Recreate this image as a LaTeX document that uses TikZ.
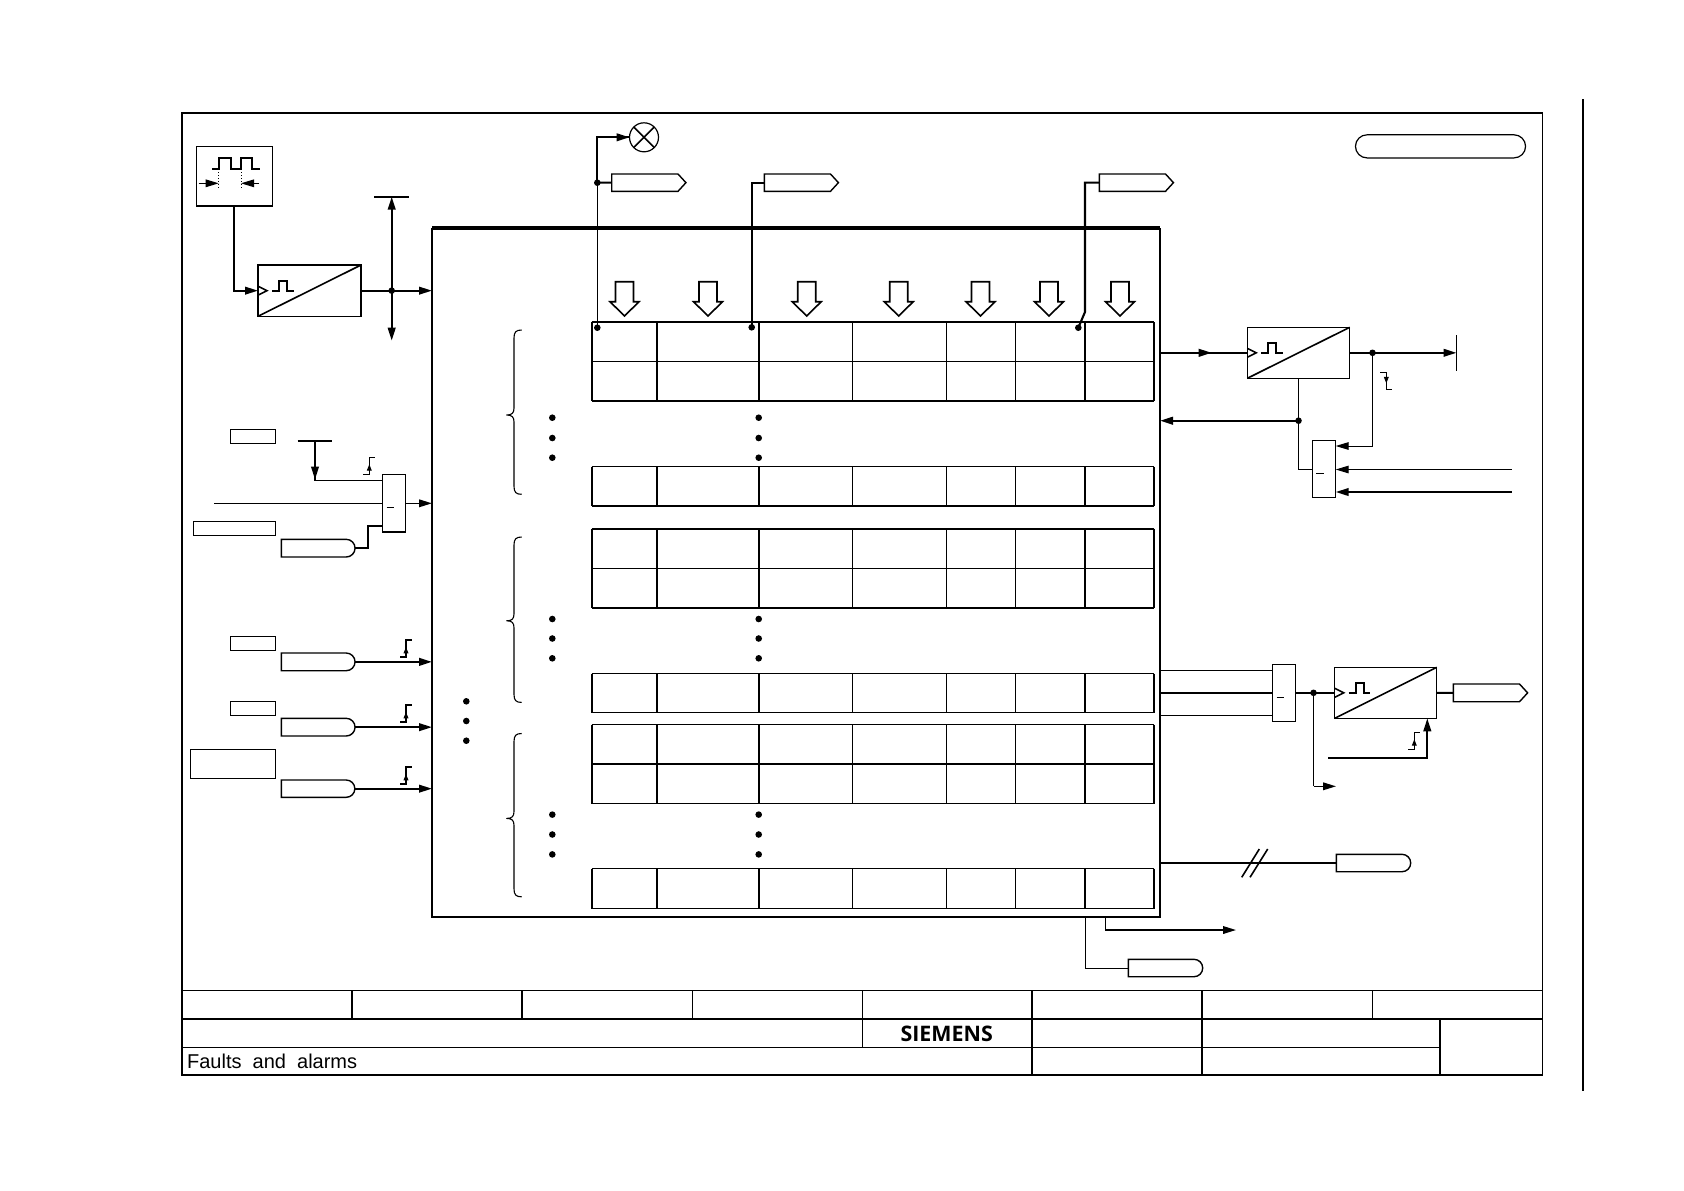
\documentclass[tikz,border=0pt]{standalone}
\usepackage{fontspec}
\setmainfont{Liberation Sans}
\newfontfamily\logofont{Open Sans}
\usetikzlibrary{arrows.meta,shapes.symbols,shapes.misc,fit}
\tikzset{
  x=0.5pt,y=-0.5pt,
  thinl/.style={line width=0.5pt},
  medl/.style={line width=0.8pt},
  thickl/.style={line width=1.05pt},
  headto/.style={-{Triangle[length=6.5pt,width=3.8pt]}},
  box/.style={draw,line width=0.75pt,inner sep=0pt,outer sep=0pt,fill=white},
  thinbox/.style={draw,line width=0.6pt,inner sep=0pt,outer sep=0pt,fill=white},
  tagout/.style={draw,line width=0.7pt,inner sep=0pt,outer sep=0pt,signal,signal to=east,signal pointer angle=95,fill=white},
  tagin/.style={draw,line width=0.7pt,inner sep=0pt,outer sep=0pt,rounded rectangle,rounded rectangle west arc=none,fill=white},
}
\newcommand\clockpulse[1]{%
  \draw[medl] (#1.west) ++(0,-4.5) -- ++(9,4.5) -- ++(-9,4.5);
  \draw[thickl] (#1.west) ++(14,0.5) -- ++(7,0) -- ++(0,-10) -- ++(8,0) -- ++(0,10) -- ++(6.5,0);
  \draw[medl] (#1.south west) -- (#1.north east);}
\newcommand\risesym[2]{%
  \draw[line width=0.7pt] (#1,#2) -- ++(6,0) -- ++(0,-17) -- ++(6,0);
  \draw[-{Triangle[length=3.2pt,width=2.4pt]},line width=0.5pt] (#1,#2) ++(6,0) -- ++(0,-10);}
\newcommand\fallsym[2]{%
  \draw[line width=0.7pt] (#1,#2) -- ++(6,0) -- ++(0,17) -- ++(6,0);
  \draw[-{Triangle[length=3.2pt,width=2.4pt]},line width=0.5pt] (#1,#2) ++(6,0) -- ++(0,11);}
% top y, bottom y, top weight, bottom weight
\newcommand\tablerow[4]{%
  \draw[line width=#3] (591.7,#1) -- (1154,#1);
  \draw[line width=#4] (591.7,#2) -- (1154,#2);
  \draw[medl] (591.7,#1) -- (591.7,#2);
  \draw[medl] (1154,#1) -- (1154,#2);
  \draw[medl] (656.7,#1) -- (656.7,#2);
  \draw[medl] (758.7,#1) -- (758.7,#2);
  \draw[thinl] (852.5,#1) -- (852.5,#2);
  \draw[thinl] (946.5,#1) -- (946.5,#2);
  \draw[thinl] (1015.5,#1) -- (1015.5,#2);
  \draw[medl] (1085,#1) -- (1085,#2);}
\newcommand\groupbrace[3]{%
  \draw[line width=0.55pt,line join=round] (521.7,#1) .. controls (516,#1) and (514,#1+2) .. (514,#1+8)
    -- (514,#2-7) .. controls (514,#2-2) and (512,#2) .. (506.7,#2)
    .. controls (512,#2) and (514,#2+2) .. (514,#2+7)
    -- (514,#3-8) .. controls (514,#3-2) and (516,#3) .. (521.7,#3);}
\newcommand\threedots[2]{%
  \foreach \yy in {#2} {\fill (#1,\yy) circle (3.3);}}
\begin{document}
\begin{tikzpicture}
\useasboundingbox (0,0) rectangle (1684,1190);
\fill[white] (0,0) rectangle (1684,1190);

% sheet frame and title block
\draw[medl] (181.7,112.7) rectangle (1542.5,1075);
\draw[medl] (1583,99) -- (1583,1091);
\draw[medl] (181.7,990.5) -- (1542.5,990.5);
\draw[thickl] (181.7,1018.7) -- (1542.5,1018.7);
\draw[thinl] (181.7,1047.5) -- (1440,1047.5);
\draw[medl] (352,990.3) -- (352,1018.7);
\draw[medl] (522,990.3) -- (522,1018.7);
\draw[thinl] (692.5,990.3) -- (692.5,1018.7);
\draw[thinl] (862.5,990.3) -- (862.5,1047);
\draw[thickl] (1032.3,990.3) -- (1032.3,1075);
\draw[thickl] (1202,990.3) -- (1202,1075);
\draw[thinl] (1372.5,990.3) -- (1372.5,1018.7);
\draw[thickl] (1440,1018.7) -- (1440,1075);
\node[anchor=base west,inner sep=0pt,font=\fontsize{10pt}{12pt}\selectfont] (title) at (186.7,1068) {Faults\ \ and\ \ alarms};
\node[inner sep=0pt,font=\logofont\bfseries\fontsize{10.7pt}{12pt}\selectfont] (logo) at (946.7,1034) {SIEMENS};

% main block
\node[draw=none,inner sep=0pt,outer sep=0pt,fit={(432,228)(1160,916.7)}] (main) {};
\draw[medl] (main.north west) -- (main.south west) -- (main.south east) -- (main.north east);
\draw[line width=1.6pt] (main.north west) -- (main.north east);

% table
\tablerow{322}{400.7}{1.05pt}{1.05pt}
\draw[thinl] (591.7,361.5) -- (1154,361.5);
\tablerow{466.5}{505.7}{0.5pt}{1.05pt}
\tablerow{528.7}{608}{1.05pt}{1.05pt}
\draw[thinl] (591.7,568.5) -- (1154,568.5);
\tablerow{673.5}{712.5}{0.5pt}{0.5pt}
\tablerow{724.5}{803.5}{0.5pt}{0.5pt}
\draw[thickl] (591.7,764) -- (1154,764);
\tablerow{868.5}{908.5}{0.5pt}{0.5pt}

% entry arrows over the table
\foreach \cx in {624.5,708,806.7,898.7,980.5,1049,1120} {
  \draw[medl,fill=white,line join=miter] (\cx-9,281.7) -- (\cx+9,281.7) -- (\cx+9,301.7) -- (\cx+14.5,301.7)
    -- (\cx,316) -- (\cx-14.5,301.7) -- (\cx-9,301.7) -- cycle;
}

% braces and ellipsis dots
\groupbrace{330}{415}{494.3}
\groupbrace{537}{620.8}{702.4}
\groupbrace{733.5}{818.4}{896.8}
\threedots{552.3}{417.7,438,457.7}
\threedots{758.7}{417.7,438,457.7}
\threedots{552.3}{619,638.5,658.3}
\threedots{758.7}{619,638.5,658.3}
\threedots{552.3}{814.6,834.5,854.4}
\threedots{758.7}{814.6,834.5,854.4}
\threedots{466.3}{701.3,721,740.7}

% pulse source
\node[box,fit={(196.3,146.3)(272.3,206)}] (clk) {};
\draw[thickl] (212,169) -- (218.7,169) -- (218.7,157.7) -- (230.7,157.7) -- (230.7,169) -- (241,169) -- (241,157.7) -- (252.3,157.7) -- (252.3,169) -- (260,169);
\draw[thinl,densely dotted] (218.7,169) -- (218.7,188);
\draw[thinl,densely dotted] (241,169) -- (241,188);
\coordinate (pw1) at (198.7,183.3);
\coordinate (pw2) at (218.7,183.3);
\coordinate (pw3) at (259,183.3);
\coordinate (pw4) at (241,183.3);
\draw[thinl,headto] (pw1) -- (pw2);
\draw[thinl,headto] (pw3) -- (pw4);

\node[box,fit={(258,265)(361,316.3)}] (mono1) {};
\clockpulse{mono1}
\draw[thickl,headto] (clk.south) |- (mono1.west);
\coordinate (j1) at (391.7,290.65);
\coordinate (bar1) at (391.7,196.7);
\coordinate (low1) at (391.7,340.7);
\draw[thickl,headto] (mono1.east) -- (mono1.east -| main.west);
\draw[thickl,headto] (j1) -- (bar1);
\draw[thickl,headto] (j1) -- (low1);
\draw[thickl] (bar1) ++(-17.7,0) -- ++(35.4,0);
\fill (j1) circle (3.3);

% OR block left
\node[thinbox,fit={(230.3,429.3)(275.7,443.3)}] (lab1) {};
\node[thinbox,fit={(193.3,521.7)(275.7,535.7)}] (lab2) {};
\node[box,fit={(382.7,474.3)(405.7,532)}] (or1) {};
\draw[medl] (386.7,507.3) -- (394,507.3);
\coordinate (bar2) at (315,440.7);
\coordinate (in2) at (382.7,480.3);
\coordinate (feed2) at (214.3,503.3);
\coordinate (in2b) at (382.7,503.3);
\coordinate (in2c) at (382.7,526);
\draw[thickl] (bar2) ++(-17.3,0) -- ++(34.7,0);
\draw[medl] (bar2) |- (in2);
\draw[thickl,headto] (bar2) -- (315,479.5);
\draw[medl] (feed2) -- (in2b);
\coordinate (or1out) at (405.7,503.3);
\draw[medl,headto] (or1out) -- (or1out -| main.west);
\node[tagin,fit={(281.3,539.3)(346.2,557)}] (tg1) {};
\draw[thickl] (tg1.east) -- (368.3,548.15) -- (368.3,526) -- (in2c);
\risesym{363.3}{474.3}

% input tags
\node[thinbox,fit={(230.3,636.3)(275.7,650.7)}] (lab3) {};
\node[tagin,fit={(281.3,653)(346.2,670.7)}] (tg2) {};
\draw[thickl,headto] (tg2.east) -- (tg2.east -| main.west);
\risesym{400}{657}
\node[thinbox,fit={(230.3,701.3)(275.7,715.7)}] (lab4) {};
\node[tagin,fit={(281.3,718.3)(346.2,736)}] (tg3) {};
\draw[thickl,headto] (tg3.east) -- (tg3.east -| main.west);
\risesym{400}{722}
\node[thinbox,fit={(190.3,749.3)(275.7,778.3)}] (lab5) {};
\node[tagin,fit={(281.3,780)(346.2,797.3)}] (tg4) {};
\draw[thickl,headto] (tg4.east) -- (tg4.east -| main.west);
\risesym{400}{784}

% top connectors
\node[thinbox,circle,minimum size=14.5pt] (lamp) at (644,137.3) {};
\draw[medl] (lamp.north west) -- (lamp.south east);
\draw[medl] (lamp.south west) -- (lamp.north east);
\coordinate (d1) at (597.3,327.7);
\coordinate (d1t) at (597.3,182.7);
\coordinate (d2) at (751.7,327.3);
\coordinate (d3) at (1078.3,327.7);
\coordinate (kink3) at (1085,312);
\node[tagout,fit={(611.7,174)(678,191.3)}] (tagA) {};
\node[tagout,fit={(764.3,174)(830.5,191.3)}] (tagB) {};
\node[tagout,fit={(1099.3,174)(1165.5,191.3)}] (tagC) {};
\draw[thinl] (d1) -- (d1t);
\draw[thickl] (d1t) |- (lamp.west);
\draw[thickl,headto] (597.3,137.3) -- (lamp.west);
\draw[thickl] (d1t) -- (tagA.west);
\fill (d1t) circle (3.3);
\fill (d1) circle (3.3);
\draw[thickl] (tagB.west) -| (d2);
\fill (d2) circle (3.3);
\draw[thickl] (tagC.west) -| (kink3) -- (d3);
\fill (d3) circle (3.3);

% top right rounded label
\node[thinbox,rounded rectangle,fit={(1367,134.8)(1514,157.9)}] (toplab) {};

% right upper
\node[box,fit={(1247.3,327.3)(1349.7,378.3)}] (mono2) {};
\clockpulse{mono2}
\coordinate (mid2) at (1211.7,352.8);
\draw[thickl] (main.east |- mono2.west) -- (mono2.west);
\draw[thickl,headto] (main.east |- mono2.west) -- (mid2);
\coordinate (end2) at (1456.5,352.8);
\draw[thickl,headto] (mono2.east) -- (end2);
\draw[thinl] (end2) ++(0,-17.8) -- ++(0,35.6);
\coordinate (j2) at (1372.5,352.8);
\coordinate (j3) at (1298.5,420.7);
\node[box,fit={(1312.7,440.7)(1335.7,497.3)}] (or2) {};
\draw[medl] (1316,473.3) -- (1323.7,473.3);
\coordinate (or2a) at (1335.7,446);
\coordinate (or2b) at (1335.7,469.5);
\coordinate (or2c) at (1335.7,492);
\coordinate (or2bin) at (1511.7,469.5);
\coordinate (or2cin) at (1511.7,492);
\coordinate (or2w) at (1312.7,469.5);
\coordinate (m2b) at (1298.5,378.3);
\draw[thinl,headto] (j2) |- (or2a);
\draw[thinl,headto] (or2bin) -- (or2b);
\draw[thickl,headto] (or2cin) -- (or2c);
\draw[thinl] (m2b) |- (or2w);
\draw[thickl,headto] (j3) -- (j3 -| main.east);
\fill (j2) circle (3.3);
\fill (j3) circle (3.3);
\fallsym{1380.3}{372.3}

% right lower
\node[box,fit={(1272.7,664.3)(1295.7,721.3)}] (or3) {};
\draw[medl] (1276.7,697.3) -- (1284,697.3);
\node[box,fit={(1334.7,667.3)(1436.7,718.3)}] (mono3) {};
\clockpulse{mono3}
\node[tagout,fit={(1453.3,684)(1519.5,701.7)}] (tagD) {};
\coordinate (r3a) at (1272.7,670.5);
\coordinate (r3b) at (1272.7,692.8);
\coordinate (r3c) at (1272.7,715.5);
\draw[thinl] (r3a -| main.east) -- (r3a);
\draw[thickl] (r3b -| main.east) -- (r3b);
\draw[thinl] (r3c -| main.east) -- (r3c);
\draw[thickl] (or3.east) -- (mono3.west);
\draw[thickl] (mono3.east) -- (tagD.west);
\coordinate (j4) at (1313.5,692.8);
\coordinate (low4) at (1313.5,786.3);
\coordinate (low4e) at (1336,786.3);
\draw[thinl] (j4) -- (low4);
\draw[medl,headto] (low4) -- (low4e);
\fill (j4) circle (3.3);
\coordinate (rst) at (1328.3,757.7);
\coordinate (rstc) at (1427.3,757.7);
\coordinate (rstt) at (1427.3,718.3);
\draw[thickl,headto] (rst) -- (rstc) -- (rstt);
\risesym{1408.3}{749.3}

% bus output
\node[tagin,fit={(1336.3,854.3)(1402,871.7)}] (tgB) {};
\draw[thickl] (tgB.west -| main.east) -- (tgB.west);
\draw[medl] (1241.7,877.3) -- (1259.3,849);
\draw[medl] (1250,877.3) -- (1267.7,849);

% bottom outputs
\coordinate (b1) at (1105.3,916.7);
\coordinate (b1e) at (1236,930);
\draw[medl,headto] (b1) |- (b1e);
\node[tagin,fit={(1128.3,959.3)(1194,976.7)}] (tgC) {};
\coordinate (b2) at (1085.5,916.7);
\draw[thinl] (b2) |- (tgC.west);
\end{tikzpicture}
\end{document}
